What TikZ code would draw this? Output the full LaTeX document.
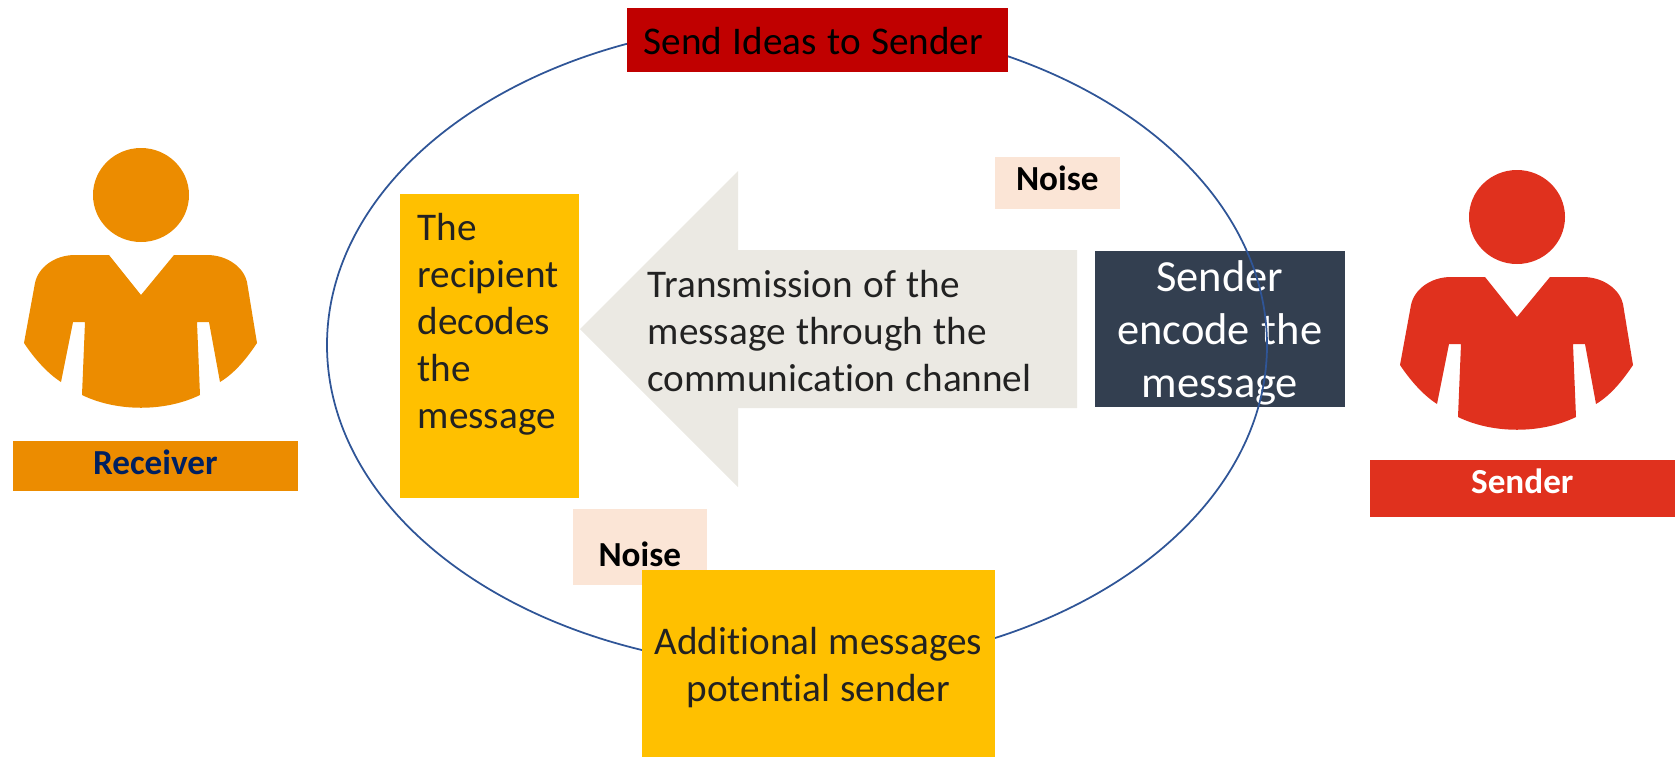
\documentclass[tikz,border=0pt]{standalone}
\usepackage{fontspec}
\setmainfont[Ligatures=NoCommon]{Carlito}
\definecolor{ringblue}{HTML}{2F5597}
\definecolor{recvorange}{HTML}{EC8C00}
\definecolor{sendred}{HTML}{E0311E}
\definecolor{darkred}{HTML}{C00000}
\definecolor{amber}{HTML}{FFC000}
\definecolor{slate}{HTML}{333F50}
\definecolor{peach}{HTML}{FBE5D6}
\definecolor{chalk}{HTML}{EBE9E3}
\definecolor{inkgrey}{HTML}{222222}
\definecolor{navy}{HTML}{002060}
\newcommand{\tightwords}{\spaceskip=.265em\relax}
\newcommand{\personfig}[3]{
  \begin{scope}[shift={(#1,#2)}]
    \fill[#3] (141,195) ellipse [x radius=48, y radius=47];
    \fill[#3] (174,255) -- (207,255) .. controls (228,255) and (244,268) .. (247,282)
      -- (257,343) .. controls (247,358) and (235,373) .. (220,382)
      -- (209,322) -- (197,322) -- (200,395) .. controls (165,412) and (117,412) .. (82,395)
      -- (85,322) -- (73,322) -- (61,382) .. controls (47,373) and (34,358) .. (24,343)
      -- (35,283) .. controls (38,268) and (54,255) .. (75,255)
      -- (109,255) -- (141,295) -- cycle;
  \end{scope}
}

\begin{document}
\begin{tikzpicture}[x=0.01cm,y=-0.01cm,
    plate/.style={anchor=north west,inner ysep=0pt,inner xsep=0pt,align=center,xshift=-.01cm,yshift=.01cm},
    main text/.style={font=\fontsize{11.15}{13.37}\selectfont,text=inkgrey},
    tag text/.style={font=\fontsize{10}{12}\selectfont\bfseries}]
  \useasboundingbox (0,0) rectangle (1675,757);

  \personfig{0}{0}{recvorange}
  \personfig{1376}{22}{sendred}
  \node[plate,tag text,fill=recvorange,text=navy,text width=2.85cm,text height=.34cm,text depth=.16cm] (receiver) at (13,441) {Receiver};
  \node[plate,tag text,fill=sendred,text=white,text width=3.05cm,text height=.34cm,text depth=.23cm] (sender) at (1370,460) {Sender};

  \fill[chalk] (580,329) -- (738,171) -- (738,250) -- (1077,250) -- (1077,408) -- (738,408) -- (738,487) -- cycle;
  \node[plate,main text,align=left,text width=4.2cm,text height=.36cm,text depth=0cm] (channel) at (648,262)
    {\tightwords Transmission of the\\message through the\\communication channel};

  \node[plate,fill=slate,text=white,font=\fontsize{12.65}{15.08}\selectfont,text width=2.5cm,text height=.41cm,text depth=1.15cm] (encode) at (1095,251)
    {\tightwords Sender\\encode the\\message};
  \node[plate,main text,fill=amber,align=left,inner xsep=.18cm,text width=1.43cm,text height=.47cm,text depth=2.57cm] (decode) at (400,194)
    {The\\recipient\\decodes\\the\\message};

  \node[plate,tag text,fill=peach,text=black,text width=1.25cm,text height=.34cm,text depth=.18cm] (noiseT) at (995,157) {Noise};
  \node[plate,tag text,fill=peach,text=black,text width=1.34cm,text height=.58cm,text depth=.18cm] (noiseB) at (573,509) {Noise};

  % ring runs over the dark box, under the two others
  \draw[ringblue,line width=0.5pt] (797,345) ellipse [x radius=470, y radius=323];

  \node[plate,main text,fill=darkred,text=black,align=left,inner xsep=.17cm,text width=3.47cm,text height=.47cm,text depth=.17cm] (ideas) at (627,8)
    {\tightwords Send Ideas to Sender};
  \node[plate,main text,fill=amber,text width=3.53cm,text height=.85cm,text depth=1.02cm] (additional) at (642,570)
    {\tightwords Additional messages\\potential sender};
\end{tikzpicture}
\end{document}
